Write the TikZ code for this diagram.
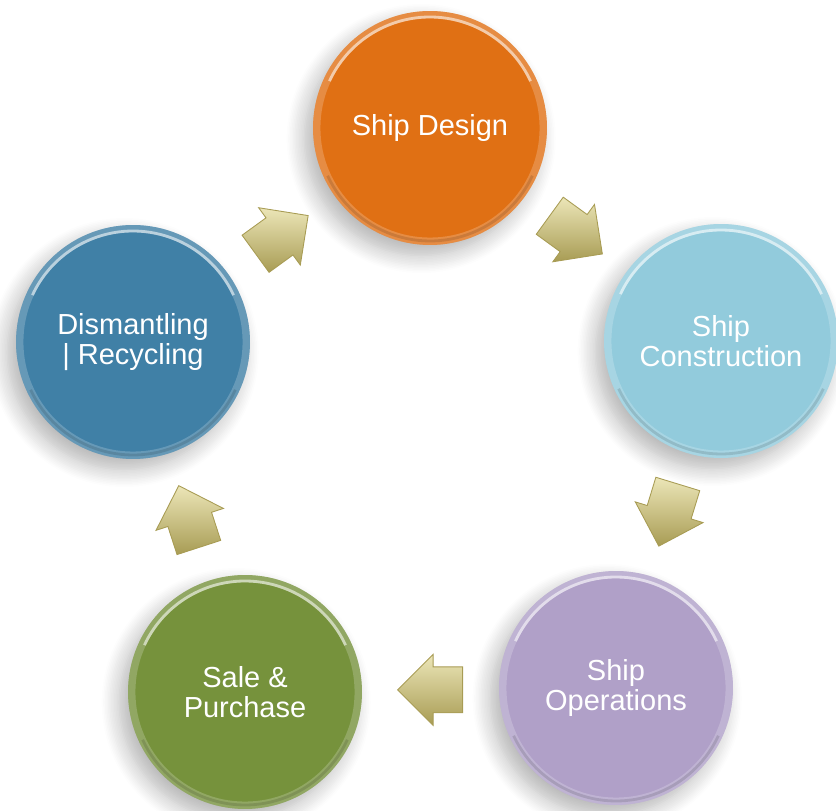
\documentclass[tikz,border=0pt]{standalone}
\usepackage{fontspec}
\setmainfont{Liberation Sans}
\usepackage{xcolor}
\usetikzlibrary{calc,shapes.arrows,shadows.blur}

\definecolor{designorange}{RGB}{224,112,20}
\definecolor{constrblue}{RGB}{146,203,220}
\definecolor{operpurple}{RGB}{176,160,200}
\definecolor{salegreen}{RGB}{118,146,60}
\definecolor{dismblue}{RGB}{64,128,166}
\definecolor{khakilight}{RGB}{236,230,184}
\definecolor{khakidark}{RGB}{168,156,84}

\tikzset{
  stage/.style={circle, minimum size=4.68cm, inner sep=0pt, text=white,
    font=\fontsize{16.5}{17}\selectfont, align=center,
    blur shadow={shadow xshift=-5pt, shadow yshift=-6pt, shadow blur radius=10pt, shadow blur steps=12, shadow opacity=30},
    path picture={
      \draw[white, opacity=.2, line width=5pt] (path picture bounding box.center) circle (2.28cm);
      \draw[white, opacity=.55, line width=1.6pt] (path picture bounding box.center) ++(25:2.22cm) arc[start angle=25, end angle=155, radius=2.22cm];
      \draw[black, opacity=.12, line width=1.6pt] (path picture bounding box.center) ++(205:2.26cm) arc[start angle=205, end angle=335, radius=2.26cm];
    }},
  blockarrow/.style={single arrow, minimum height=1.3cm, minimum width=1.4cm,
    inner xsep=0pt, inner ysep=0.45cm, single arrow head extend=0.25cm,
    top color=khakilight, bottom color=khakidark,
    draw=khakidark, line width=0.5pt}
}

\begin{document}
\begin{tikzpicture}[x=0.02cm, y=0.02cm]
        \useasboundingbox (0,0) rectangle (836,811);
        % the five stages
        \node[stage, fill=designorange] (design) at (430,683) {Ship Design};
        \node[stage, fill=constrblue] (constr) at (721,470) {Ship\\Construction};
        \node[stage, fill=operpurple] (oper) at (616,123) {Ship\\Operations};
        \node[stage, fill=salegreen] (sale) at (245,119) {Sale \&\\Purchase};
        \node[stage, fill=dismblue] (dism) at (133,469) {Dismantling\\| Recycling};
        % arrows between stages
        \node[blockarrow, rotate=36] (dismtodesign) at ($(dism)!0.47!(design)$) {};
        \node[blockarrow, rotate=-36] (designtoconstr) at ($(design)!0.47!(constr)$) {};
        \node[blockarrow, rotate=-107] (constrtooper) at ($(constr)!0.47!(oper)$) {};
        \node[blockarrow, rotate=180] (opertosale) at ($(oper)!0.47!(sale)$) {};
        \node[blockarrow, rotate=108] (saletodism) at ($(sale)!0.47!(dism)$) {};
    \end{tikzpicture}
\end{document}
